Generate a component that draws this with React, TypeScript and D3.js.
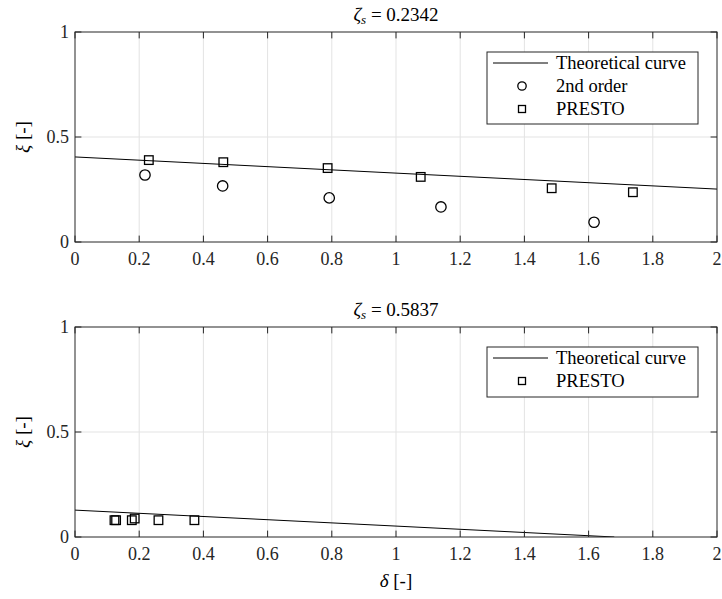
import React from "react";
import * as d3 from "d3";

const xTicks = [0, 0.2, 0.4, 0.6, 0.8, 1, 1.2, 1.4, 1.6, 1.8, 2];
const xTickLabels = ["0", "0.2", "0.4", "0.6", "0.8", "1", "1.2", "1.4", "1.6", "1.8", "2"];
const yTicks = [0, 0.5, 1];
const yTickLabels = ["0", "0.5", "1"];

// Top panel (zeta_s = 0.2342)
const topTheoryX = [0, 1, 2];
const topTheoryY = [0.405, 0.328, 0.252];
const topOrder2X = [0.218, 0.46, 0.792, 1.14, 1.617];
const topOrder2Y = [0.319, 0.267, 0.21, 0.167, 0.094];
const topPrestoX = [0.23, 0.462, 0.787, 1.077, 1.485, 1.738];
const topPrestoY = [0.39, 0.38, 0.352, 0.31, 0.256, 0.237];

// Bottom panel (zeta_s = 0.5837)
const botTheoryX = [0, 1, 1.68];
const botTheoryY = [0.128, 0.052, 0];
const botPrestoX = [0.123, 0.128, 0.177, 0.186, 0.26, 0.372];
const botPrestoY = [0.08, 0.08, 0.08, 0.088, 0.08, 0.08];

const FONT = '"Liberation Serif", "DejaVu Serif", "Times New Roman", serif';
const AX = "#262626";
const GRID = "#e3e3e3";
const ts = (size: number, extra: any = {}) => ({ fontFamily: FONT, fontSize: size + "px", ...extra });

type PanelProps = {
  top: number;
  title: string;
  theoryX: number[];
  theoryY: number[];
  circX?: number[];
  circY?: number[];
  sqX: number[];
  sqY: number[];
  showXLabel?: boolean;
};

function Panel(p: PanelProps) {
  const left = 75, right = 717;
  const h = 210;
  const x = d3.scaleLinear().domain([0, 2]).range([left, right]);
  const y = d3.scaleLinear().domain([0, 1]).range([p.top + h, p.top]);
  const line = d3
    .line<number>()
    .x((_, i) => x(p.theoryX[i]))
    .y((_, i) => y(p.theoryY[i]));
  const tl = 6.4;
  const hasCirc = !!p.circX;
  const legTop = p.top + 20;
  const legH = hasCirc ? 72 : 50;
  const rowGap = 23;
  return (
    <g>
      {xTicks.map((t, i) =>
        i > 0 && i < xTicks.length - 1 ? (
          <line key={"gx" + i} x1={x(t)} x2={x(t)} y1={y(0)} y2={y(1)} stroke={GRID} strokeWidth={1} />
        ) : null
      )}
      <line x1={left} x2={right} y1={y(0.5)} y2={y(0.5)} stroke={GRID} strokeWidth={1} />
      <defs>
        <clipPath id={"clip" + p.top}>
          <rect x={left} y={p.top} width={right - left} height={h} />
        </clipPath>
      </defs>
      <path d={line(p.theoryX) || ""} fill="none" stroke="#000" strokeWidth={1} clipPath={`url(#clip${p.top})`} />
      {hasCirc &&
        p.circX!.map((v, i) => (
          <circle key={"c" + i} cx={x(v)} cy={y(p.circY![i])} r={5.2} fill="none" stroke="#000" strokeWidth={1.3} />
        ))}
      {p.sqX.map((v, i) => (
        <rect key={"s" + i} x={x(v) - 4.3} y={y(p.sqY[i]) - 4.3} width={8.6} height={8.6} fill="none" stroke="#000" strokeWidth={1.3} />
      ))}
      <rect x={left} y={p.top} width={right - left} height={h} fill="none" stroke={AX} strokeWidth={1} />
      {xTicks.map((t, i) => (
        <g key={"xt" + i}>
          <line x1={x(t)} x2={x(t)} y1={y(0)} y2={y(0) - tl} stroke={AX} />
          <line x1={x(t)} x2={x(t)} y1={y(1)} y2={y(1) + tl} stroke={AX} />
          <text x={x(t)} y={y(0) + 23} textAnchor="middle" style={ts(18)} fill={AX}>
            {xTickLabels[i]}
          </text>
        </g>
      ))}
      {yTicks.map((t, i) => (
        <g key={"yt" + i}>
          <line x1={left} x2={left + tl} y1={y(t)} y2={y(t)} stroke={AX} />
          <line x1={right} x2={right - tl} y1={y(t)} y2={y(t)} stroke={AX} />
          <text x={left - 6} y={y(t) + 6} textAnchor="end" style={ts(18)} fill={AX}>
            {yTickLabels[i]}
          </text>
        </g>
      ))}
      <text x={(left + right) / 2} y={p.top - 11} textAnchor="middle" style={ts(19)} fill="#000">
        <tspan style={{ fontStyle: "italic" }}>ζ</tspan>
        <tspan style={{ fontStyle: "italic", fontSize: "13px" }} dy={3}>s</tspan>
        <tspan dy={-3}> = {p.title}</tspan>
      </text>
      <text transform={`translate(29,${p.top + h / 2}) rotate(-90)`} textAnchor="middle" style={ts(19)} fill="#000">
        <tspan style={{ fontStyle: "italic" }}>ξ</tspan> [-]
      </text>
      {p.showXLabel && (
        <text x={(left + right) / 2} y={p.top + h + 50} textAnchor="middle" style={ts(19)} fill="#000">
          <tspan style={{ fontStyle: "italic" }}>δ</tspan> [-]
        </text>
      )}
      <rect x={487} y={legTop} width={211} height={legH} fill="#fff" stroke={AX} strokeWidth={1} />
      <line x1={493} x2={548} y1={legTop + 11} y2={legTop + 11} stroke="#000" strokeWidth={1} />
      <text x={556} y={legTop + 17} style={ts(18.5)} fill="#000">Theoretical curve</text>
      {hasCirc && (
        <g>
          <circle cx={522} cy={legTop + 11 + rowGap} r={4.2} fill="none" stroke="#000" strokeWidth={1.3} />
          <text x={556} y={legTop + 17 + rowGap} style={ts(18.5)} fill="#000">2nd order</text>
        </g>
      )}
      <rect x={522 - 3.5} y={legTop + 11 + rowGap * (hasCirc ? 2 : 1) - 3.5} width={7} height={7} fill="none" stroke="#000" strokeWidth={1.3} />
      <text x={556} y={legTop + 17 + rowGap * (hasCirc ? 2 : 1)} style={ts(18.5)} fill="#000">PRESTO</text>
    </g>
  );
}

export default function App() {
  return (
    <svg width={722} height={599} style={{ position: "absolute", left: 0, top: 0, background: "#fff" }}>
      <rect width={722} height={599} fill="#fff" />
      <Panel top={32} title="0.2342" theoryX={topTheoryX} theoryY={topTheoryY} circX={topOrder2X} circY={topOrder2Y} sqX={topPrestoX} sqY={topPrestoY} />
      <Panel top={327} title="0.5837" theoryX={botTheoryX} theoryY={botTheoryY} sqX={botPrestoX} sqY={botPrestoY} showXLabel />
    </svg>
  );
}
